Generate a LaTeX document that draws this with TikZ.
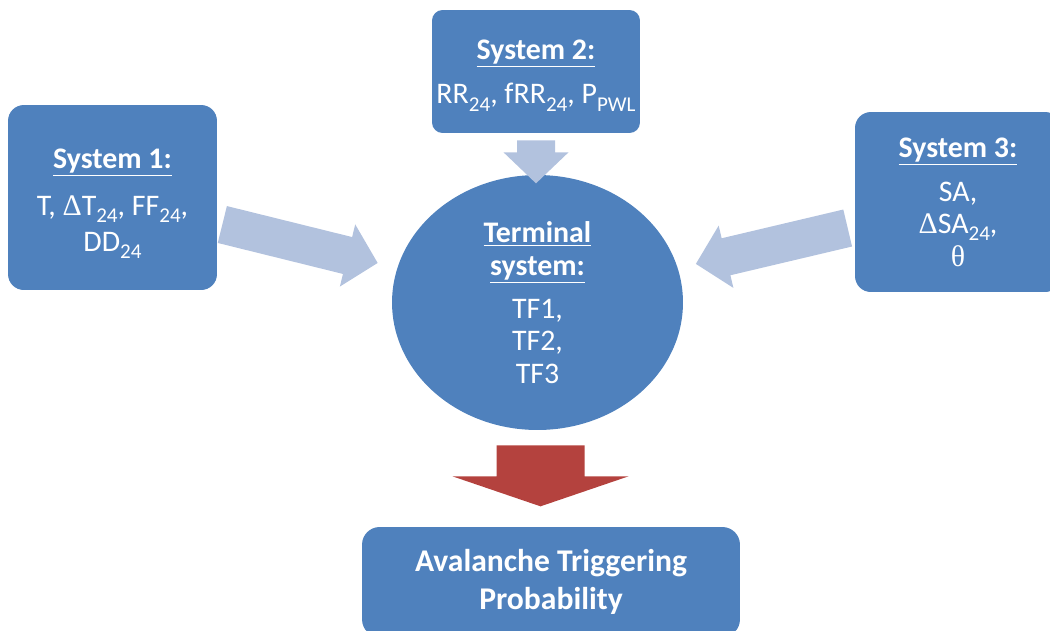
\documentclass[tikz,border=0pt]{standalone}
\usepackage{fontspec}
\setmainfont{Carlito}
\newfontfamily\greekfont{Liberation Serif}
\usepackage{xcolor}
\usetikzlibrary{shapes.geometric}

\definecolor{boxblue}{RGB}{79,129,189}
\definecolor{arrowblue}{RGB}{178,194,222}
\definecolor{arrowred}{RGB}{180,66,62}

\newcommand{\sysfont}{\fontsize{17}{18.5}\selectfont}
\newcommand{\probfont}{\fontsize{18}{22}\selectfont}
\newcommand{\head}[1]{\textbf{\underline{#1}}}
\newcommand{\gr}[1]{{\greekfont #1}}
\newcommand{\sub}[1]{\raisebox{-0.24em}{\fontsize{12}{12}\selectfont #1}}

\begin{document}
\begin{tikzpicture}[x=0.02cm, y=-0.02cm,
  sysbox/.style={fill=boxblue, rounded corners=9pt, text=white, align=center, font=\sysfont, inner sep=0pt},
  termbox/.style={ellipse, fill=boxblue, text=white, align=center, font=\sysfont, inner sep=0pt},
  lightarrow/.style={fill=arrowblue},
  redarrow/.style={fill=arrowred}]
\clip (0,0) rectangle (1050,630);

% input systems
\node[sysbox, minimum width=4.18cm, minimum height=3.7cm] (sys1) at (112.5,197.5)
  {\rule{0pt}{18pt}\head{System 1:}\\[8pt] T, \gr{Δ}T\sub{24}, FF\sub{24},\\[2pt] DD\sub{24}};
\node[sysbox, rounded corners=6pt, minimum width=4.16cm, minimum height=2.46cm] (sys2) at (536,71.5)
  {\rule{0pt}{15.5pt}\head{System 2:}\\[7pt] RR\sub{24}, fRR\sub{24}, P\sub{PWL}};
\node[sysbox, minimum width=4.12cm, minimum height=3.6cm] (sys3) at (958,202)
  {\head{System 3:}\\[6.5pt] SA,\\ \gr{Δ}SA\sub{24},\\ \gr{θ}};

% terminal system and output
\node[termbox, minimum width=5.82cm, minimum height=5.1cm] (term) at (537.5,302.5)
  {\head{Terminal}\\ \head{system:}\\[6pt] TF1,\\ TF2,\\ TF3};
\node[sysbox, rounded corners=10pt, font=\probfont, minimum width=7.56cm, minimum height=2.2cm] (prob) at (551,582)
  {\textbf{Avalanche Triggering}\\ \textbf{Probability}};

% block arrows
\fill[lightarrow, shift={(sys1.east)}, shift={(5,27)}, rotate=-13.9]
  (0,-19) -- (129,-19) -- (129,-32) -- (160,0) -- (129,32) -- (129,19) -- (0,19) -- cycle;
\fill[lightarrow, shift={(sys3.west)}, shift={(-7,26)}, rotate=193.3]
  (0,-19) -- (125,-19) -- (125,-32) -- (156,0) -- (125,32) -- (125,19) -- (0,19) -- cycle;
\fill[lightarrow, shift={(sys2.south)}]
  (-19,7) -- (19,7) -- (19,19) -- (32.5,19) -- (0,50) -- (-32.5,19) -- (-19,19) -- cycle;
\fill[redarrow, shift={(term.south)}]
  (-41,15) -- (47,15) -- (47,46) -- (91,46) -- (3,76) -- (-85,46) -- (-41,46) -- cycle;
\end{tikzpicture}
\end{document}
